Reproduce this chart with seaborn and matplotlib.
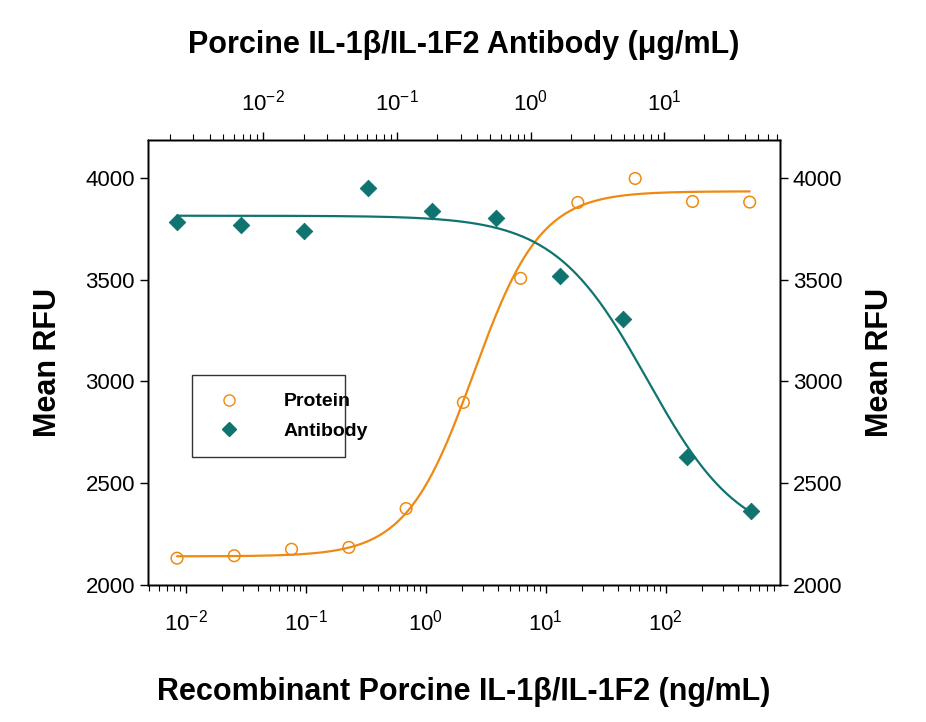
import numpy as np
import pandas as pd
import matplotlib
matplotlib.use("Agg")
import matplotlib.pyplot as plt
import seaborn as sns

# data
protein_conc = [0.00848, 0.0254, 0.0763, 0.229, 0.687, 2.06, 6.18, 18.5, 55.6, 167, 500]
protein_rfu = [2131, 2143, 2175, 2184, 2375, 2897, 3507, 3880, 3998, 3885, 3882]
antibody_conc = [0.00226, 0.00678, 0.0203, 0.061, 0.183, 0.549, 1.65, 4.94, 14.8, 44.5]
antibody_rfu = [3782, 3767, 3738, 3951, 3838, 3802, 3521, 3307, 2628, 2361]

# 4PL fit parameters (bottom, top, ec50, hill)
protein_fit = (2140, 3935, 2.5, 1.55)
antibody_fit = (2200, 3815, 7.5, 1.25)

ORANGE = "#ee8a12"
TEAL = "#0f7470"


def four_pl(x, p):
    bottom, top, ec50, hill = p
    return bottom + (top - bottom) / (1 + (ec50 / x) ** hill)


sns.set_style("white")
plt.rcParams.update({
    "font.family": "Liberation Sans",
    "text.color": "black",
    "axes.labelcolor": "black",
    "xtick.color": "black",
    "ytick.color": "black",
    "mathtext.fontset": "custom",
    "mathtext.rm": "Liberation Sans",
})

fig = plt.figure(figsize=(9.26, 7.22), dpi=100)
ax = fig.add_axes([0.160, 0.190, 0.682, 0.616])
ax_top = ax.twiny()
ax_right = ax.twinx()

# protein on bottom axis
xs = np.logspace(np.log10(protein_conc[0]), np.log10(protein_conc[-1]), 300)
sns.lineplot(x=xs, y=four_pl(xs, protein_fit), color=ORANGE, lw=1.6, ax=ax)
sns.scatterplot(x=protein_conc, y=protein_rfu, ax=ax, marker="o", s=70,
                facecolor="none", edgecolor=ORANGE, linewidth=1.1, zorder=3)

# antibody on top axis (signal falls as antibody rises)
xa = np.logspace(np.log10(antibody_conc[0]), np.log10(antibody_conc[-1]), 300)
sns.lineplot(x=xa, y=four_pl(xa, (antibody_fit[1], antibody_fit[0], antibody_fit[2], antibody_fit[3])),
             color=TEAL, lw=1.6, ax=ax_top)
sns.scatterplot(x=antibody_conc, y=antibody_rfu, ax=ax_top, marker="D", s=70,
                color=TEAL, edgecolor=TEAL, zorder=3)

ylim = (2000, 4187)
for a in (ax, ax_top, ax_right):
    a.set_ylim(*ylim)
ax.set_xscale("log")
ax.set_xlim(10 ** -2.312, 10 ** 2.949)
ax_top.set_xscale("log")
ax_top.set_xlim(10 ** -2.862, 10 ** 1.865)

yt = [2000, 2500, 3000, 3500, 4000]
ax.set_yticks(yt)
ax_right.set_yticks(yt)
ax.set_xticks([1e-2, 1e-1, 1, 10, 100])
ax_top.set_xticks([1e-2, 1e-1, 1, 10])

for a in (ax, ax_top, ax_right):
    a.tick_params(labelsize=16, length=6, width=1, direction="out")
    a.tick_params(which="minor", length=4, width=0.8)
    for s in a.spines.values():
        s.set_linewidth(1)
        s.set_color("black")
ax.tick_params(axis="x", pad=12)
ax_top.tick_params(axis="x", pad=12)

ax.set_xlabel("Recombinant Porcine IL-1β/IL-1F2 (ng/mL)", fontsize=22, fontweight="bold", labelpad=30)
ax_top.set_xlabel("Porcine IL-1β/IL-1F2 Antibody (μg/mL)", fontsize=22, fontweight="bold", labelpad=26)
ax.set_ylabel("Mean RFU", fontsize=22, fontweight="bold", labelpad=16)
ax_right.set_ylabel("Mean RFU", fontsize=22, fontweight="bold", labelpad=16)

handles = [
    plt.Line2D([], [], marker="o", ls="none", mfc="none", mec=ORANGE, ms=8),
    plt.Line2D([], [], marker="D", ls="none", color=TEAL, ms=7),
]
leg = ax.legend(handles, ["Protein", "Antibody"], loc="lower left",
                bbox_to_anchor=(0.054, 0.265, 0.273, 0.2), mode="expand",
                fontsize=14, frameon=True, fancybox=False, handletextpad=1.8,
                borderpad=0.9, labelspacing=0.6)
leg.get_frame().set_edgecolor("black")
leg.get_frame().set_linewidth(1)
for t in leg.get_texts():
    t.set_fontweight("bold")

fig.savefig("out.png", dpi=100)
